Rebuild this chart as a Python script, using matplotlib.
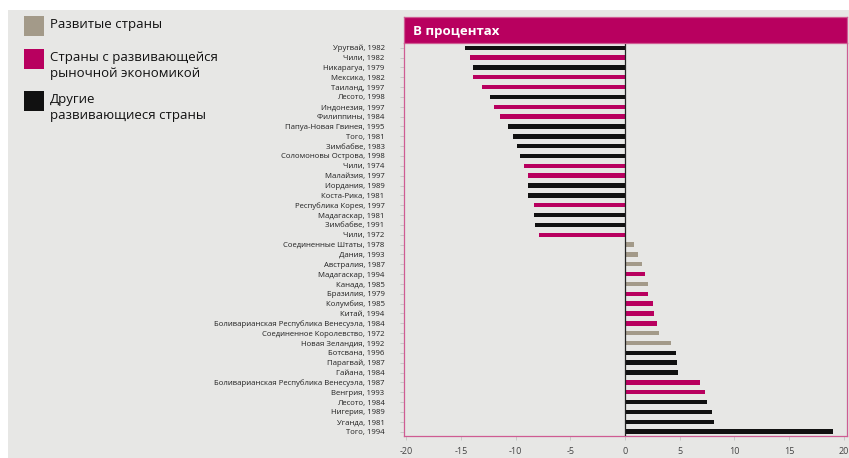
import matplotlib
matplotlib.use("Agg")
import matplotlib.pyplot as plt
from matplotlib.patches import Rectangle

plt.rcParams['font.family'] = ['Open Sans', 'DejaVu Sans']

countries = [
    "Уругвай, 1982", "Чили, 1982", "Никарагуа, 1979", "Мексика, 1982",
    "Таиланд, 1997", "Лесото, 1998", "Индонезия, 1997", "Филиппины, 1984",
    "Папуа-Новая Гвинея, 1995", "Того, 1981", "Зимбабве, 1983",
    "Соломоновы Острова, 1998", "Чили, 1974", "Малайзия, 1997",
    "Иордания, 1989", "Коста-Рика, 1981", "Республика Корея, 1997",
    "Мадагаскар, 1981", "Зимбабве, 1991", "Чили, 1972",
    "Соединенные Штаты, 1978", "Дания, 1993", "Австралия, 1987",
    "Мадагаскар, 1994", "Канада, 1985", "Бразилия, 1979", "Колумбия, 1985",
    "Китай, 1994", "Боливарианская Республика Венесуэла, 1984",
    "Соединенное Королевство, 1972", "Новая Зеландия, 1992",
    "Ботсвана, 1996", "Парагвай, 1987", "Гайана, 1984",
    "Боливарианская Республика Венесуэла, 1987", "Венгрия, 1993",
    "Лесото, 1984", "Нигерия, 1989", "Уганда, 1981", "Того, 1994",
]
values = [
    -14.6, -14.2, -13.9, -13.85, -13.05, -12.3, -12.0, -11.4, -10.7, -10.2,
    -9.9, -9.6, -9.2, -8.9, -8.9, -8.85, -8.35, -8.35, -8.25, -7.85,
    0.85, 1.2, 1.55, 1.85, 2.15, 2.15, 2.55, 2.65, 2.95, 3.15,
    4.2, 4.7, 4.8, 4.85, 6.9, 7.35, 7.5, 7.95, 8.15, 19.0,
]
# 0 = развитые, 1 = с развивающейся рыночной экономикой, 2 = другие развивающиеся
groups = [
    2, 1, 2, 1, 1, 2, 1, 1, 2, 2,
    2, 2, 1, 1, 2, 2, 1, 2, 2, 1,
    0, 0, 0, 1, 0, 1, 1, 1, 1, 0,
    0, 2, 2, 2, 1, 1, 2, 2, 2, 2,
]
group_names = ["Развитые страны",
               "Страны с развивающейся\nрыночной экономикой",
               "Другие\nразвивающиеся страны"]
xticks = [-20, -15, -10, -5, 0, 5, 10, 15, 20]
xtick_labels = ["-20", "-15", "-10", "-5", "0", "5", "10", "15", "20"]
header = "В процентах"

group_colors = ["#a39a89", "#b8005f", "#111111"]
bg = "#e7e7e5"
pink = "#b8005f"

W, H = 849, 458
fig = plt.figure(figsize=(W / 100, H / 100), dpi=100, facecolor=bg)

# white margin at top and left
fig.patches.append(Rectangle((0, 1 - 10 / H), 1, 10 / H, transform=fig.transFigure,
                             facecolor="white", edgecolor="none", zorder=0))
fig.patches.append(Rectangle((0, 0), 8 / W, 1, transform=fig.transFigure,
                             facecolor="white", edgecolor="none", zorder=0))

ax_left, ax_right = 404 / W, 847 / W
ax_top, ax_bottom = 1 - 43 / H, 1 - 436 / H
ax = fig.add_axes([ax_left, ax_bottom, ax_right - ax_left, ax_top - ax_bottom])
ax.set_facecolor(bg)

y = list(range(len(countries)))
ax.barh(y, values, height=0.45, color=[group_colors[g] for g in groups], zorder=2)
ax.axvline(0, color="#222222", lw=0.9, zorder=3)

ax.set_xlim(-20.2, 20.3)
ax.set_ylim(len(countries) - 0.55, -0.48)
ax.set_yticks(y)
ax.set_yticklabels(countries, fontsize=5.6, color="#222222")
ax.set_xticks(xticks)
ax.set_xticklabels(xtick_labels, fontsize=6.5, color="#444444")
ax.tick_params(axis="y", length=3, width=0.5, color="#bbbbbb", pad=11)
ax.tick_params(axis="x", length=3, width=0.5, color="#bbbbbb", pad=5)
for s in ax.spines.values():
    s.set_color("#cf5c93")
    s.set_linewidth(0.9)
ax.spines["top"].set_visible(False)

# header band
hax = fig.add_axes([ax_left, 1 - 43 / H, ax_right - ax_left, 26 / H])
hax.set_facecolor(pink)
hax.set_xticks([])
hax.set_yticks([])
for s in hax.spines.values():
    s.set_color("#cf5c93")
    s.set_linewidth(0.9)
hax.text(0.02, 0.45, header, transform=hax.transAxes, color="white",
         fontsize=9.5, fontweight="bold", va="center", ha="left")

# legend
sq_tops = [16, 49, 91]
for g in range(3):
    fig.patches.append(Rectangle((24 / W, 1 - (sq_tops[g] + 20) / H), 20 / W, 20 / H,
                                 transform=fig.transFigure, facecolor=group_colors[g],
                                 edgecolor="none", zorder=2))
    fig.text(50 / W, 1 - (sq_tops[g] + 2) / H, group_names[g], fontsize=9.5,
             color="#111111", va="top", ha="left", linespacing=1.3)

fig.savefig("out.png", dpi=100, facecolor=fig.get_facecolor())
